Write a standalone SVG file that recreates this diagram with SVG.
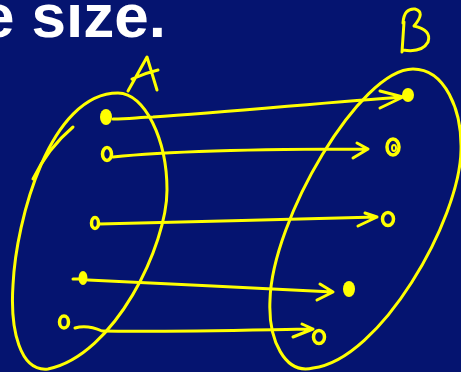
<svg xmlns="http://www.w3.org/2000/svg" width="461" height="372" viewBox="0 0 461 372">
<style>
.y{fill:none;stroke:#ffff00;stroke-width:3;stroke-linecap:round;stroke-linejoin:round}
.dot{fill:#ffff00}
.ring{fill:none;stroke:#ffff00;stroke-width:3.5}
.t{font-family:"Liberation Sans",Arial,sans-serif;font-weight:bold;font-size:62px;fill:#ffffff}
</style>
<rect width="461" height="372" fill="#051470"/>
<text class="t" x="166" y="37" text-anchor="end">e size.</text>
<g id="setA">
<path class="y" d="M118,93 C145,93 167,140 167,190 C167,245 115,355 48,369 C20,372 10,330 13,285 C16,220 50,93 118,93 Z"/>
<path class="y" d="M73,127 Q48,148 33,179"/>
<path class="y" d="M128,91 L147,57 L157,90 M132,79 Q145,73 158,70"/>
</g>
<g id="setB">
<path class="y" d="M413,69 C445,69 462,110 461,150 C460,220 380,360 313,368 C285,375 268,340 270,300 C272,220 360,69 413,69 Z"/>
<path class="y" d="M403,23 Q404,8 415,9 Q426,12 414,26 Q432,30 428,42 Q422,53 403,50 M404,22 L402,52"/>
</g>
<g id="a1"><ellipse class="dot" cx="106" cy="117" rx="6" ry="8"/></g>
<g id="a2"><ellipse class="ring" cx="107" cy="154" rx="4.5" ry="6.5"/></g>
<g id="a3"><ellipse class="ring" cx="95" cy="223" rx="3.5" ry="5.5"/></g>
<g id="a4"><ellipse class="dot" cx="83" cy="278" rx="4.5" ry="7"/><path class="y" d="M73,279 L80,279"/></g>
<g id="a5"><ellipse class="ring" cx="64" cy="322" rx="4.5" ry="6"/></g>
<g id="b1"><ellipse class="dot" cx="408" cy="95" rx="6" ry="7"/></g>
<g id="b2"><ellipse class="ring" cx="393" cy="147" rx="6" ry="8"/><ellipse class="ring" cx="394" cy="148" rx="2" ry="3" style="stroke-width:2"/></g>
<g id="b3"><ellipse class="ring" cx="388" cy="219" rx="5.5" ry="6.5"/></g>
<g id="b4"><ellipse class="dot" cx="349" cy="289" rx="6" ry="8"/></g>
<g id="b5"><ellipse class="ring" cx="319" cy="337" rx="5.5" ry="6.5"/></g>
<g id="connectors">
<path class="y" d="M113,119 C130,119 140,117 153,117 C230,112 330,102 403,97 M380,91 L403,97 L380,108"/>
<path class="y" d="M113,157 C160,152 260,149 368,149 M357,143 L368,149 L353,158"/>
<path class="y" d="M99,224 C180,222 300,219 377,217 M365,213 L377,217 L358,226"/>
<path class="y" d="M88,280 C160,284 260,288 333,292 M320,284 L333,292 L317,300"/>
<path class="y" d="M75,328 C85,325 93,327 102,331 C170,332 250,330 313,329 M302,324 L313,329 L293,337"/>
</g>
</svg>
